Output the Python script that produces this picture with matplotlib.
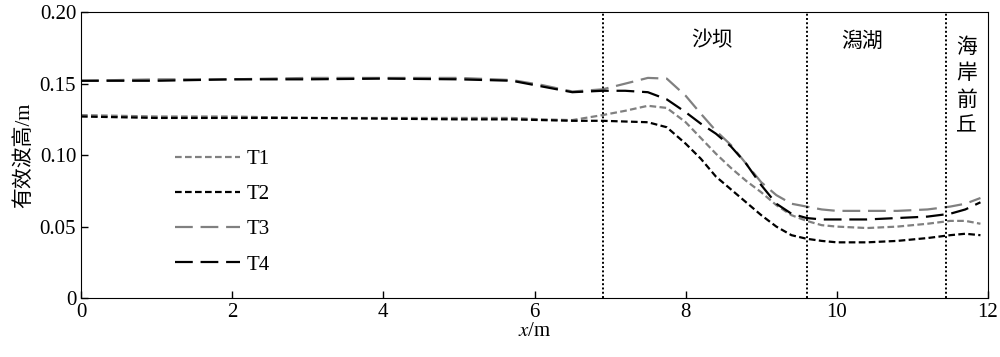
import numpy as np
import matplotlib.pyplot as plt

plt.rcParams['font.family'] = ['Liberation Serif', 'Noto Sans CJK SC']
plt.rcParams['mathtext.fontset'] = 'stix'

# distance along flume (m)
x = [0, 1, 2, 3, 4, 5, 5.7, 6.1, 6.5, 6.9, 7.2, 7.5, 7.75, 8.0, 8.2, 8.4, 8.6, 8.8, 9.0, 9.2,
     9.4, 9.6, 9.8, 10.0, 10.4, 10.8, 11.2, 11.5, 11.7, 11.9]

t1 = [0.128, 0.127, 0.127, 0.126, 0.126, 0.126, 0.126, 0.125, 0.1245, 0.128, 0.131, 0.1345, 0.133, 0.123, 0.112,
      0.101, 0.091, 0.082, 0.074, 0.065, 0.058, 0.054, 0.051, 0.050, 0.049, 0.050, 0.052, 0.054, 0.054, 0.052]
t2 = [0.127, 0.126, 0.126, 0.126, 0.1255, 0.125, 0.125, 0.1245, 0.124, 0.124, 0.1235, 0.123, 0.1195, 0.108, 0.0975,
      0.085, 0.076, 0.067, 0.058, 0.050, 0.044, 0.0415, 0.040, 0.039, 0.039, 0.040, 0.042, 0.044, 0.045, 0.044]
t3 = [0.152, 0.153, 0.153, 0.154, 0.154, 0.154, 0.1525, 0.149, 0.1445, 0.146, 0.150, 0.154, 0.1535, 0.1415, 0.129,
      0.117, 0.107, 0.094, 0.081, 0.072, 0.066, 0.064, 0.062, 0.061, 0.061, 0.061, 0.062, 0.064, 0.066, 0.070]
t4 = [0.152, 0.152, 0.153, 0.153, 0.1535, 0.153, 0.152, 0.148, 0.144, 0.145, 0.145, 0.144, 0.139, 0.130, 0.122,
      0.115, 0.106, 0.094, 0.079, 0.066, 0.059, 0.056, 0.055, 0.055, 0.055, 0.056, 0.057, 0.059, 0.062, 0.067]

labels = ['T1', 'T2', 'T3', 'T4']
colors = ['#808080', 'black', '#808080', 'black']
dashes = [(3, 1.5), (3, 1.5), (8, 3.5), (8, 3.5)]

# zone boundaries and names
bounds = [6.9, 9.6, 11.45]
zones = ['沙坝', '潟湖', '海\n岸\n前\n丘']
zone_x = [8.35, 10.33, 11.72]
zone_y = [0.18, 0.18, 0.148]

fig = plt.figure(figsize=(10, 3.57), dpi=100)
ax = fig.add_axes([0.081, 0.165, 0.907, 0.801])

for y, lab, c, d in zip([t1, t2, t3, t4], labels, colors, dashes):
    ax.plot(x, y, color=c, lw=1.6, dashes=d, label=lab)

for b in bounds:
    ax.axvline(b, color='black', lw=1.4, ls=(0, (1, 1.2)))

for zx, zy, name in zip(zone_x, zone_y, zones):
    ax.text(zx, zy, name, ha='center', va='center', fontsize=15,
            family=['Noto Sans CJK SC'], linespacing=1.25)

ax.set_xlim(0, 12)
ax.set_ylim(0, 0.2)
ax.set_xticks([0, 2, 4, 6, 8, 10, 12])
ax.set_yticks([0, 0.05, 0.10, 0.15, 0.20])
ax.set_yticklabels(['0', '0.05', '0.10', '0.15', '0.20'])
ax.tick_params(direction='in', labelsize=15, length=5, width=1)
ax.set_xlabel('$x$/m', fontsize=15, labelpad=0)
ax.set_ylabel('有效波高/m', fontsize=15, labelpad=4)

ax.legend(loc='upper left', bbox_to_anchor=(0.104, 0.52), frameon=False, fontsize=15,
          handlelength=3.1, handletextpad=0.3, labelspacing=0.75,
          borderpad=0, borderaxespad=0)

fig.savefig('out.png', dpi=100)
